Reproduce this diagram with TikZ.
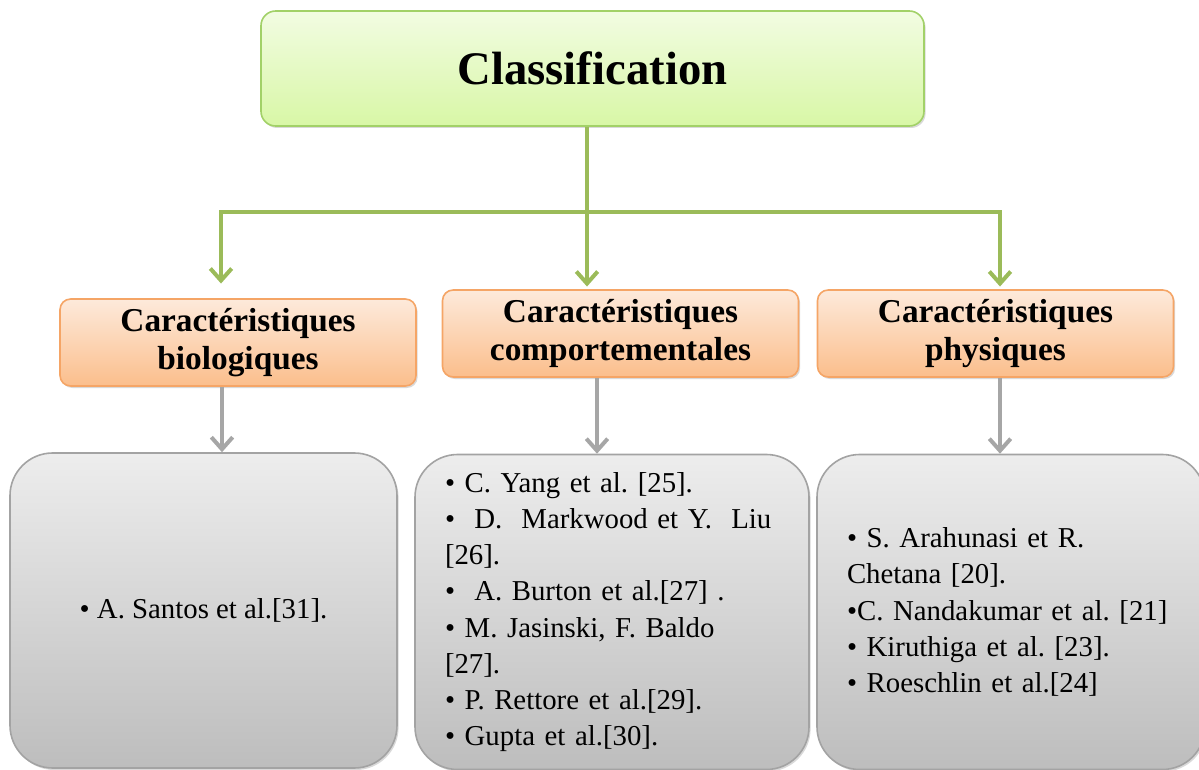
\documentclass[tikz,border=0pt]{standalone}
\usepackage{fontspec}
\setmainfont{Liberation Serif}
\usetikzlibrary{arrows.meta,shadows}
\definecolor{grn}{HTML}{9BBB59}
\definecolor{grnline}{HTML}{A2D168}
\definecolor{grntop}{HTML}{F2FCE2}
\definecolor{grnbot}{HTML}{D8F7A6}
\definecolor{orgline}{HTML}{F5A566}
\definecolor{orgtop}{HTML}{FDEADB}
\definecolor{orgbot}{HTML}{FBBE8C}
\definecolor{gryline}{HTML}{A3A3A3}
\definecolor{grytop}{HTML}{EDEDED}
\definecolor{grybot}{HTML}{BDBDBD}
\definecolor{garrow}{HTML}{A6A6A6}
\tikzset{
  myshadow/.style={drop shadow={shadow xshift=1.2pt,shadow yshift=-1.5pt,opacity=0.25,fill=black!60}},
  titlebox/.style={draw=grnline,line width=1.2pt,rounded corners=11pt,top color=grntop,bottom color=grnbot,
    minimum width=497.25pt,minimum height=86.25pt,myshadow,
    font=\fontsize{35}{42}\selectfont\bfseries},
  catbox/.style={draw=orgline,line width=1.2pt,rounded corners=8pt,top color=orgtop,bottom color=orgbot,
    minimum width=267pt,minimum height=65.25pt,align=center,inner sep=0pt,myshadow,
    font=\fontsize{25}{28.5}\selectfont\bfseries},
  refbox/.style={draw=gryline,line width=1.2pt,rounded corners=32pt,top color=grytop,bottom color=grybot,
    minimum height=236.25pt,inner xsep=22.5pt,myshadow,
    font=\fontsize{21.6}{27.15}\selectfont},
  greenline/.style={draw=grn,line width=3pt},
  greenarrow/.style={greenline,-{Straight Barb[length=9pt,width=16pt]}},
  grayarrow/.style={draw=garrow,line width=3pt,-{Straight Barb[length=9pt,width=16pt]}}
}
\begin{document}
\begin{tikzpicture}[x=0.75pt,y=-0.75pt]
\frenchspacing
\useasboundingbox (0,0) rectangle (1199,770);
% title
\node[titlebox] (top) at (592.5,68.5) {Classification};
% categories
\node[catbox] (c1) at (238,342.5) {Caractéristiques\\biologiques};
\node[catbox] (c2) at (620.5,333.5) {Caractéristiques\\comportementales};
\node[catbox] (c3) at (995.5,333.5) {Caractéristiques\\physiques};
% reference boxes
\node[refbox,minimum width=290.25pt,align=center] (g1) at (203.5,610.5) {• A. Santos et al.[31].};
\node[refbox,minimum width=295.5pt,text width=250.5pt,align=left] (g2) at (612,612)
  {\mbox{• C. Yang et al. [25].}\\
   \mbox{•\ \ D.\ \ Markwood et Y.\ \ Liu}\\
   \mbox{[26].}\\
   \mbox{•\ \ A. Burton et al.[27]\ .}\\
   \mbox{• M. Jasinski, F. Baldo}\\
   \mbox{[27].}\\
   \mbox{• P. Rettore et al.[29].}\\
   \mbox{• Gupta et al.[30].}};
\node[refbox,minimum width=291pt,text width=246pt,align=left] (g3) at (1011,612)
  {\mbox{• S. Arahunasi et R.}\\
   \mbox{Chetana [20].}\\
   \mbox{•C. Nandakumar et al. [21]}\\
   \mbox{• Kiruthiga et al. [23].}\\
   \mbox{• Roeschlin et al.[24]}};
% green connectors
\coordinate (v0) at (587,212);
\coordinate (j1) at (221,212);
\coordinate (j3) at (1000,212);
\draw[greenline] (top.south -| v0) -- (v0);
\draw[greenline] ([xshift=-1.5pt]j1) -- ([xshift=1.5pt]j3);
\draw[greenarrow] (j1) -- ([yshift=11pt]c1.north -| j1);
\draw[greenarrow] (v0) -- ([yshift=2pt]c2.north -| v0);
\draw[greenarrow] (j3) -- ([yshift=2pt]c3.north -| j3);
% gray connectors
\coordinate (a1) at (222,0);
\coordinate (a2) at (597,0);
\coordinate (a3) at (1000,0);
\draw[grayarrow] (c1.south -| a1) -- (g1.north -| a1);
\draw[grayarrow] (c2.south -| a2) -- (g2.north -| a2);
\draw[grayarrow] (c3.south -| a3) -- (g3.north -| a3);
\end{tikzpicture}
\end{document}
